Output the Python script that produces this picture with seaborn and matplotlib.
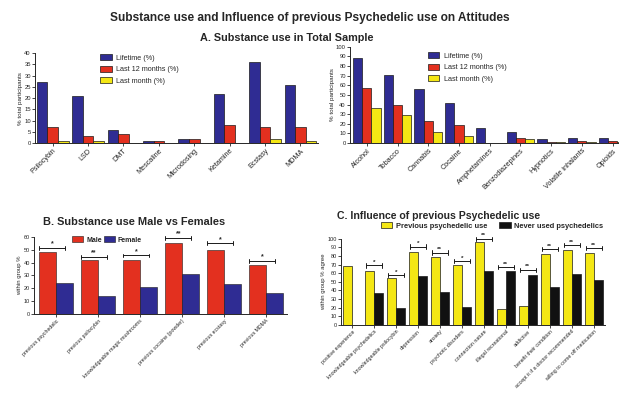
import numpy as np
import pandas as pd
import matplotlib
matplotlib.use("Agg")
import matplotlib.pyplot as plt
import seaborn as sns

# ---- Panel A: substance use in the total sample ----
psychedelics = ["Psilocybin", "LSD", "DMT", "Mescaline", "Microdosing",
                "Ketamine", "Ecstasy", "MDMA"]
psy_lifetime = [27, 21, 6, 1, 2, 22, 36, 26]
psy_12m = [7, 3, 4, 1, 2, 8, 7, 7]
psy_month = [1, 1, 0, 0, 0, 0, 2, 1]

other_drugs = ["Alcohol", "Tobacco", "Cannabis", "Cocaine", "Amphetamines",
               "Benzodiazepines", "Hypnotics", "Volatile inhalants", "Opioids"]
other_lifetime = [88, 71, 56, 42, 16, 12, 4, 5, 5]
other_12m = [57, 40, 23, 19, 0, 5, 1, 2, 2]
other_month = [36, 29, 12, 7, 0, 4, 1, 1, 1]

period_labels = ["Lifetime (%)", "Last 12 months (%)", "Last month (%)"]

# ---- Panel B: male vs female ----
sex_items = ["previous psychedelic", "previous psilocybin",
             "knowledgeable magic mushrooms", "previous cocaine (powder)",
             "previous ecstasy", "previous MDMA"]
male_pct = [48, 42, 42, 55, 50, 38]
female_pct = [24, 14, 21, 31, 23, 16]
sex_groups = ["Male", "Female"]
sex_sig = ["*", "**", "*", "**", "*", "*"]
sex_sig_y = [51.5, 44.5, 45.5, 59, 55, 41.5]

# ---- Panel C: attitudes by previous psychedelic use ----
attitude_items = ["positive experience", "knowledgeable psychedelics",
                  "knowledgeable psilocybin", "depression", "anxiety",
                  "psychotic disorders", "connection nature",
                  "illegal recreational", "addictive",
                  "benefit their condition",
                  "accept it if a doctor recommended",
                  "willing to come off medication"]
prev_pct = [68, 63, 54, 85, 79, 69, 96, 18, 22, 82, 87, 83]
never_pct = [np.nan, 37, 20, 57, 38, 21, 62, 62, 58, 44, 59, 52]
use_groups = ["Previous psychedelic use", "Never used psychedelics"]
att_sig = ["", "*", "*", "*", "**", "*", "**", "**", "**", "**", "**", "**"]
att_sig_y = [np.nan, 69, 58, 91, 84, 74, 100, 67, 64, 88, 93, 89]

BLUE = "#2f2c93"
RED = "#e3301f"
YELLOW = "#f4e714"
BLACK = "#111111"
EDGE = "#1a1a1a"

sns.set_style("ticks")
plt.rcParams["font.family"] = ["Liberation Sans", "DejaVu Sans"]
plt.rcParams["axes.linewidth"] = 0.7
plt.rcParams["xtick.major.width"] = 0.6
plt.rcParams["ytick.major.width"] = 0.6
plt.rcParams["xtick.major.size"] = 2
plt.rcParams["ytick.major.size"] = 2
plt.rcParams["xtick.major.pad"] = 1
plt.rcParams["ytick.major.pad"] = 1

fig = plt.figure(figsize=(6.19, 4.09), dpi=100)


def long_table(cats, series, names, cat_col, grp_col):
    rows = []
    for name, vals in zip(names, series):
        for c, v in zip(cats, vals):
            rows.append({cat_col: c, grp_col: name, "value": v})
    return pd.DataFrame(rows)


def style_axis(ax, ylim, step, ylabel, tick_fs, label_fs, xfs):
    ax.set_ylim(*ylim)
    ax.set_yticks(np.arange(ylim[0], ylim[1] + 0.1, step))
    ax.tick_params(axis="y", labelsize=tick_fs)
    ax.tick_params(axis="x", labelsize=xfs)
    ax.set_ylabel(ylabel, fontsize=label_fs, labelpad=1)
    ax.set_xlabel("")
    for lab in ax.get_xticklabels():
        lab.set_rotation(45)
        lab.set_ha("right")
        lab.set_rotation_mode("anchor")
    sns.despine(ax=ax)


def brackets(ax, sig, ys, x0, x1, fs):
    h = (ax.get_ylim()[1] - ax.get_ylim()[0]) * 0.025
    for i, (s, y) in enumerate(zip(sig, ys)):
        if not s:
            continue
        ax.plot([i + x0, i + x1], [y, y], color=EDGE, lw=0.7, clip_on=False)
        ax.plot([i + x0, i + x0], [y - h, y + h], color=EDGE, lw=0.7,
                clip_on=False)
        ax.plot([i + x1, i + x1], [y - h, y + h], color=EDGE, lw=0.7,
                clip_on=False)
        ax.text(i + (x0 + x1) / 2, y + h * 0.2, s, ha="center", va="bottom",
                fontsize=fs, fontweight="bold")


# Panel A left
dfa1 = long_table(psychedelics, [psy_lifetime, psy_12m, psy_month],
                  period_labels, "substance", "period")
ax1 = fig.add_axes([0.0565, 0.650, 0.4575, 0.220])
sns.barplot(data=dfa1, x="substance", y="value", hue="period",
            palette=[BLUE, RED, YELLOW], saturation=1, edgecolor=EDGE,
            linewidth=0.5, width=0.9, gap=0, ax=ax1)
ax1.set_xlim(-0.5, 7.5)
style_axis(ax1, (0, 40), 5, "% total participants", 4.2, 4.5, 5.2)
ax1.legend(loc="upper left", bbox_to_anchor=(0.22, 1.02), frameon=False,
           fontsize=5.2, handlelength=1.6, handleheight=0.9,
           labelspacing=0.55, handletextpad=0.6, borderaxespad=0)

# Panel A right
dfa2 = long_table(other_drugs, [other_lifetime, other_12m, other_month],
                  period_labels, "substance", "period")
ax2 = fig.add_axes([0.5654, 0.650, 0.449, 0.236])
sns.barplot(data=dfa2, x="substance", y="value", hue="period",
            palette=[BLUE, RED, YELLOW], saturation=1, edgecolor=EDGE,
            linewidth=0.5, width=0.9, gap=0, ax=ax2)
ax2.set_xlim(-0.55, 8.5)
style_axis(ax2, (0, 100), 10, "% total participants", 4.2, 4.5, 5.2)
ax2.legend(loc="upper left", bbox_to_anchor=(0.27, 0.97), frameon=False,
           fontsize=5.2, handlelength=1.6, handleheight=0.9,
           labelspacing=0.55, handletextpad=0.6, borderaxespad=0)

# Panel B
dfb = long_table(sex_items, [male_pct, female_pct], sex_groups,
                 "item", "sex")
ax3 = fig.add_axes([0.055, 0.232, 0.409, 0.189])
sns.barplot(data=dfb, x="item", y="value", hue="sex",
            palette=[RED, BLUE], saturation=1, edgecolor=EDGE,
            linewidth=0.4, width=0.8, gap=0, ax=ax3)
ax3.set_xlim(-0.52, 5.5)
style_axis(ax3, (0, 60), 10, "within group %", 4.0, 4.3, 3.8)
ax3.legend(loc="upper left", bbox_to_anchor=(0.14, 1.04), ncol=2,
           frameon=False, handlelength=1.6, handleheight=0.9,
           columnspacing=0.3, handletextpad=0.4, borderaxespad=0,
           prop={"weight": "bold", "size": 5.0})
brackets(ax3, sex_sig, sex_sig_y, -0.4, 0.22, 5)

# Panel C
dfc = long_table(attitude_items, [prev_pct, never_pct], use_groups,
                 "item", "group")
ax4 = fig.add_axes([0.551, 0.206, 0.426, 0.210])
sns.barplot(data=dfc, x="item", y="value", hue="group",
            palette=[YELLOW, BLACK], saturation=1, edgecolor=EDGE,
            linewidth=0.5, width=0.82, gap=0, ax=ax4)
ax4.set_xlim(-0.5, 11.5)
style_axis(ax4, (0, 100), 10, "within group % agree", 4.0, 4.3, 3.8)
ax4.legend(loc="lower left", bbox_to_anchor=(0.14, 1.07), ncol=2,
           frameon=False, handlelength=1.5, handleheight=0.8,
           columnspacing=1.6, handletextpad=0.5, borderaxespad=0.0,
           prop={"weight": "bold", "size": 5.4})
brackets(ax4, att_sig, att_sig_y, -0.36, 0.36, 4.6)

# Titles
fig.text(0.5, 0.955, "Substance use and Influence of previous Psychedelic use on Attitudes",
         ha="center", va="center", fontsize=8.6, fontweight="bold")
fig.text(0.464, 0.907, "A. Substance use in Total Sample",
         ha="center", va="center", fontsize=7.8, fontweight="bold")
fig.text(0.069, 0.457, "B. Substance use Male vs Females",
         ha="left", va="center", fontsize=7.9, fontweight="bold")
fig.text(0.544, 0.473, "C. Influence of previous Psychedelic use",
         ha="left", va="center", fontsize=7.6, fontweight="bold")

fig.savefig("out.png", dpi=100)
